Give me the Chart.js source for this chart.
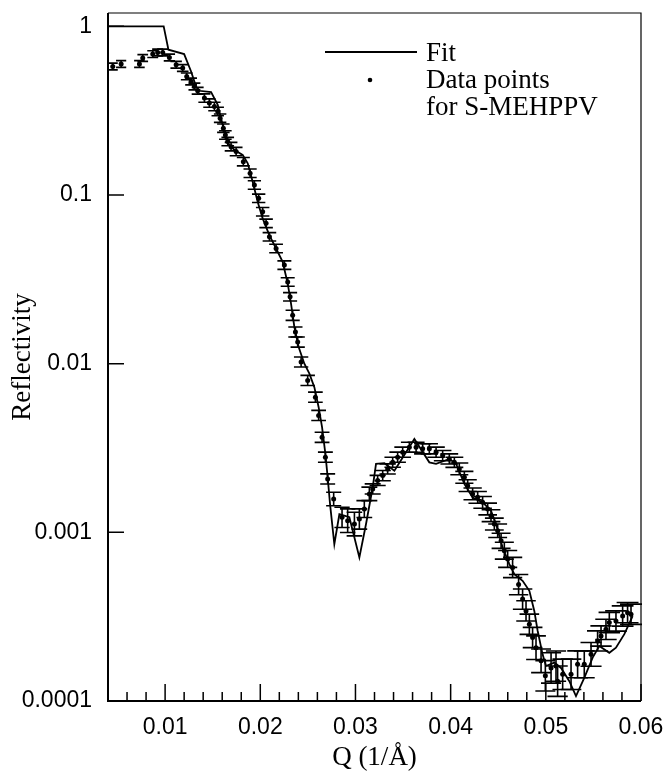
<!DOCTYPE html>
<html>
<head>
<meta charset="utf-8">
<script src="https://cdn.jsdelivr.net/npm/chart.js@4"></script>
<style>
html,body{margin:0;padding:0;background:#fff;}
#wrap{width:670px;height:776px;}
</style>
</head>
<body>
<div id="wrap"><canvas id="c" width="670" height="776"></canvas></div>
<script>
// ---- tick values and labels ----
const xTickValues = [0.01, 0.02, 0.03, 0.04, 0.05, 0.06];
const xTickLabels = ['0.01', '0.02', '0.03', '0.04', '0.05', '0.06'];
const xMinorTicks = [0.006, 0.008, 0.012, 0.014, 0.016, 0.018, 0.022, 0.024, 0.026, 0.028,
                     0.032, 0.034, 0.036, 0.038, 0.042, 0.044, 0.046, 0.048, 0.052, 0.054, 0.056, 0.058];
const yTickValues = [0.0001, 0.001, 0.01, 0.1, 1];
const yTickLabels = ['0.0001', '0.001', '0.01', '0.1', '1'];

// ---- fit curve ----
const fitQ = [0.004, 0.00985, 0.01035, 0.0120, 0.01273, 0.01325, 0.0136, 0.01483, 0.01553, 0.01605,
  0.01658, 0.01728, 0.01815, 0.01868, 0.0192, 0.01973, 0.02025, 0.02095, 0.02166, 0.02235,
  0.02288, 0.02323, 0.02358, 0.02403, 0.02463, 0.02516, 0.02568, 0.02613, 0.02649, 0.02684,
  0.02708, 0.02733, 0.02778, 0.02831, 0.02936, 0.03041, 0.03111, 0.03181, 0.03216, 0.03304,
  0.03409, 0.03619, 0.03776, 0.03847, 0.03987, 0.04057, 0.04144, 0.04231, 0.04336, 0.04424,
  0.04477, 0.04546, 0.04617, 0.04669, 0.04756, 0.04827, 0.04879, 0.04914, 0.04966, 0.05002,
  0.05089, 0.0516, 0.05247, 0.05317, 0.05404, 0.05492, 0.05562, 0.05667, 0.05737, 0.05825, 0.05912];
const fitR = [1, 1, 0.727, 0.685, 0.54, 0.44, 0.415, 0.407, 0.343, 0.26,
  0.203, 0.185, 0.173, 0.154, 0.12, 0.091, 0.0727, 0.0578, 0.0482, 0.0402,
  0.0299, 0.0227, 0.0165, 0.01255, 0.01, 0.00873, 0.00726, 0.00552, 0.0042, 0.00292,
  0.00212, 0.00147, 0.00085, 0.00128, 0.00123, 0.00071, 0.00112, 0.00185, 0.00255, 0.00257,
  0.00232, 0.00358, 0.0026, 0.00255, 0.002725, 0.00255, 0.001936, 0.00161, 0.001506, 0.001343,
  0.00112, 0.000813, 0.000648, 0.000565, 0.000516, 0.00045, 0.000342, 0.000261, 0.000189, 0.000161,
  0.000169, 0.000157, 0.000131, 0.000107, 0.000137, 0.000181, 0.000212, 0.000193, 0.000207, 0.000249, 0.000319];

// ---- measured data points ----
const dataQ = [0.0045, 0.00538, 0.0073, 0.00765, 0.0087, 0.00922, 0.00975, 0.01045, 0.01116, 0.01185,
  0.01227, 0.01273, 0.01308, 0.01342, 0.01413, 0.01465, 0.01518, 0.01553, 0.01578, 0.01612,
  0.01633, 0.01658, 0.01693, 0.01746, 0.01822, 0.01893, 0.01938, 0.01983, 0.02025, 0.02061,
  0.02096, 0.02166, 0.02253, 0.02288, 0.02313, 0.0234, 0.02369, 0.02393, 0.02429, 0.02498,
  0.02579, 0.02613, 0.02649, 0.02684, 0.02708, 0.02771, 0.02859, 0.02918, 0.02989, 0.03041,
  0.03093, 0.03146, 0.03181, 0.03233, 0.03286, 0.03338, 0.03391, 0.03443, 0.03496, 0.03566,
  0.03637, 0.03706, 0.03776, 0.03847, 0.03916, 0.03986, 0.04039, 0.04091, 0.04144, 0.04179,
  0.04231, 0.04284, 0.04336, 0.04389, 0.04424, 0.04459, 0.04494, 0.0453, 0.04564, 0.04599,
  0.04651, 0.04714, 0.04756, 0.04792, 0.04827, 0.04861, 0.04897, 0.0495, 0.04995, 0.05055,
  0.05107, 0.05124, 0.05177, 0.05265, 0.05334, 0.05404, 0.05475, 0.05544, 0.0558, 0.05632,
  0.05667, 0.05737, 0.05807, 0.05859, 0.05895];
const dataR = [0.578, 0.598, 0.598, 0.649, 0.685, 0.70, 0.70, 0.654, 0.592, 0.566,
  0.505, 0.471, 0.44, 0.415, 0.3755, 0.351, 0.335, 0.3126, 0.2856, 0.249,
  0.227, 0.2074, 0.1936, 0.181, 0.1577, 0.1346, 0.1147, 0.0956, 0.0796, 0.0679,
  0.0565, 0.0482, 0.0384, 0.0305, 0.0249, 0.01936, 0.01541, 0.01343, 0.01023, 0.00796,
  0.00633, 0.00493, 0.00366, 0.00279, 0.002073, 0.001577, 0.001227, 0.001172, 0.00112, 0.0012,
  0.001375, 0.00169, 0.001808, 0.00203, 0.002169, 0.002377, 0.002603, 0.002789, 0.002985, 0.003195,
  0.003195, 0.003126, 0.003126, 0.002985, 0.00285, 0.002725, 0.0026, 0.002377, 0.00212, 0.001892,
  0.00169, 0.001612, 0.001506, 0.001375, 0.001255, 0.00112, 0.001022, 0.000891, 0.000778, 0.000695,
  0.000619, 0.00049, 0.000402, 0.000342, 0.000285, 0.000238, 0.000207, 0.000173, 0.000141, 0.000157,
  0.000161, 0.000131, 0.000144, 0.000144, 0.000165, 0.000165, 0.000189, 0.000227, 0.000243, 0.000266,
  0.000292, 0.000298, 0.000319, 0.000334, 0.000327];
// error half-size in decades (log10 units)
const dataErr = [0.02, 0.02, 0.02, 0.02, 0.02, 0.02, 0.02, 0.02, 0.02, 0.02,
  0.02, 0.02, 0.02, 0.02, 0.025, 0.025, 0.025, 0.025, 0.025, 0.025,
  0.025, 0.025, 0.025, 0.025, 0.025, 0.025, 0.025, 0.025, 0.025, 0.025,
  0.025, 0.025, 0.025, 0.025, 0.025, 0.03, 0.03, 0.03, 0.03, 0.03,
  0.03, 0.03, 0.03, 0.03, 0.03, 0.04, 0.06, 0.07, 0.07, 0.06,
  0.05, 0.04, 0.03, 0.03, 0.03, 0.03, 0.03, 0.03, 0.03, 0.03,
  0.03, 0.03, 0.03, 0.03, 0.03, 0.03, 0.03, 0.035, 0.035, 0.035,
  0.035, 0.035, 0.035, 0.035, 0.035, 0.035, 0.04, 0.045, 0.05, 0.05,
  0.06, 0.06, 0.06, 0.06, 0.06, 0.06, 0.07, 0.07, 0.09, 0.09,
  0.09, 0.09, 0.09, 0.09, 0.08, 0.08, 0.07, 0.06, 0.06, 0.06,
  0.06, 0.06, 0.06, 0.06, 0.06];

const fitPoints = fitQ.map((q, i) => ({x: q, y: fitR[i]}));
const dataPoints = dataQ.map((q, i) => ({x: q, y: dataR[i]}));

const frameAndExtras = {
  id: 'frameAndExtras',
  beforeDatasetsDraw(chart) {
    const {ctx, scales: {x, y}} = chart;
    ctx.save();
    ctx.strokeStyle = '#000';
    ctx.lineWidth = 1.6;
    dataQ.forEach((q, i) => {
      const px = x.getPixelForValue(q);
      const f = Math.pow(10, dataErr[i]);
      const yHi = y.getPixelForValue(dataR[i] * f);
      const yLo = y.getPixelForValue(dataR[i] / f);
      const w = 4.5 + q * 110;
      ctx.beginPath();
      ctx.moveTo(px, yHi); ctx.lineTo(px, yLo);
      ctx.moveTo(px - w, yHi); ctx.lineTo(px + w, yHi);
      ctx.moveTo(px - w, yLo); ctx.lineTo(px + w, yLo);
      ctx.stroke();
    });
    ctx.restore();
  },
  afterDraw(chart) {
    const {ctx, chartArea: a, scales: {x, y}} = chart;
    ctx.save();
    ctx.strokeStyle = '#000';
    ctx.lineWidth = 1.2;
    ctx.beginPath();
    ctx.moveTo(a.left, a.top); ctx.lineTo(a.right, a.top); ctx.lineTo(a.right, a.bottom);
    ctx.stroke();
    ctx.lineWidth = 2;
    ctx.beginPath();
    ctx.moveTo(a.left, a.top); ctx.lineTo(a.left, a.bottom); ctx.lineTo(a.right, a.bottom);
    ctx.stroke();
    ctx.lineWidth = 1.5;
    ctx.beginPath();
    xTickValues.forEach(v => {
      const px = x.getPixelForValue(v);
      ctx.moveTo(px, a.bottom); ctx.lineTo(px, a.bottom - 17);
    });
    xMinorTicks.forEach(v => {
      const px = x.getPixelForValue(v);
      ctx.moveTo(px, a.bottom); ctx.lineTo(px, a.bottom - 9);
    });
    yTickValues.forEach(v => {
      const py = y.getPixelForValue(v);
      ctx.moveTo(a.left, py); ctx.lineTo(a.left + 16, py);
    });
    ctx.stroke();
    // legend
    ctx.lineWidth = 1.8;
    ctx.beginPath();
    ctx.moveTo(325, 52); ctx.lineTo(417, 52);
    ctx.stroke();
    ctx.fillStyle = '#000';
    ctx.beginPath();
    ctx.arc(370, 80, 2.3, 0, Math.PI * 2);
    ctx.fill();
    ctx.font = '27px "Liberation Serif"';
    ctx.textAlign = 'left';
    ctx.textBaseline = 'alphabetic';
    ctx.fillText('Fit', 426, 61);
    ctx.fillText('Data points', 426, 88);
    ctx.fillText('for S-MEHPPV', 426, 115);
    ctx.restore();
  }
};

new Chart(document.getElementById('c'), {
  type: 'scatter',
  data: {
    datasets: [
      {label: 'Fit', data: fitPoints, showLine: true, borderColor: '#000', borderWidth: 1.8,
       pointRadius: 0, fill: false, tension: 0},
      {label: 'Data points for S-MEHPPV', data: dataPoints, showLine: false,
       pointRadius: 2.5, pointBackgroundColor: '#000', pointBorderColor: '#000', pointBorderWidth: 0}
    ]
  },
  options: {
    responsive: false,
    animation: false,
    layout: {padding: {left: 0, right: 29, top: 13, bottom: 0}},
    plugins: {legend: {display: false}, tooltip: {enabled: false}},
    scales: {
      x: {
        type: 'linear', min: 0.004, max: 0.06,
        afterBuildTicks: s => { s.ticks = xTickValues.map(v => ({value: v})); },
        afterFit: s => { s.height = 75; s.paddingLeft = 0; s.paddingRight = 0; },
        ticks: {
          callback: (v, i) => xTickLabels[i],
          font: {family: '"Liberation Sans"', size: 23}, color: '#000',
          padding: 13, maxRotation: 0, autoSkip: false
        },
        grid: {display: false, drawTicks: false},
        border: {display: false},
        title: {display: true, text: 'Q (1/Å)', color: '#000',
                font: {family: '"Liberation Serif"', size: 27}, padding: {top: 0, bottom: 2}}
      },
      y: {
        type: 'logarithmic', min: 0.0001, max: 1.2,
        afterBuildTicks: s => { s.ticks = yTickValues.map(v => ({value: v})); },
        afterFit: s => { s.width = 108; s.paddingTop = 0; s.paddingBottom = 0; },
        ticks: {
          callback: (v, i) => yTickLabels[i],
          font: {family: '"Liberation Sans"', size: 23}, color: '#000',
          padding: 16, autoSkip: false
        },
        grid: {display: false, drawTicks: false},
        border: {display: false},
        title: {display: true, text: 'Reflectivity', color: '#000',
                font: {family: '"Liberation Serif"', size: 27}, padding: {top: 7, bottom: 0}}
      }
    }
  },
  plugins: [frameAndExtras]
});
</script>
</body>
</html>
